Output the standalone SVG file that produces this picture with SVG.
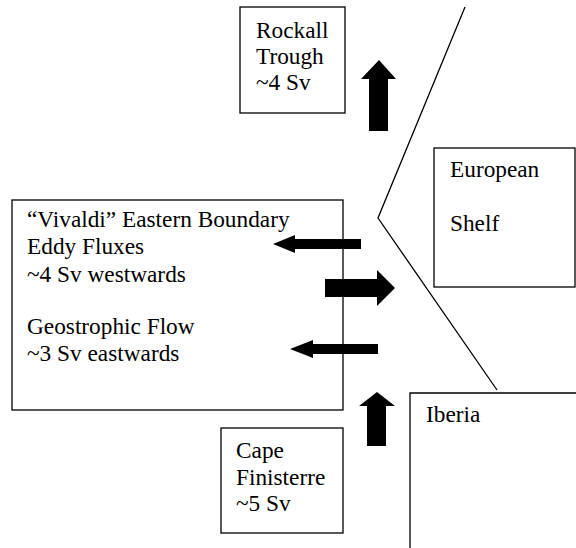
<svg xmlns="http://www.w3.org/2000/svg" width="576" height="548" viewBox="0 0 576 548">
<style>
.box{fill:none;stroke:#000;stroke-width:1.3}
.t{font-family:"Liberation Serif","Times New Roman",serif;font-size:23.3px;fill:#000}
.ar{fill:#000}
.coast{fill:none;stroke:#000;stroke-width:1.3}
</style>
<rect width="576" height="548" fill="#fff"/>
<g id="coast"><polyline class="coast" points="465,7 378,218 497,390"/></g>
<g id="rockall">
<rect class="box" x="240" y="7" width="105" height="106"/>
<text class="t" x="256" y="38">Rockall</text>
<text class="t" x="256" y="64">Trough</text>
<text class="t" x="256" y="90">~4 Sv</text>
</g>
<g id="european-shelf">
<rect class="box" x="434" y="148" width="141" height="139"/>
<text class="t" x="450" y="177">European</text>
<text class="t" x="450" y="231">Shelf</text>
</g>
<g id="vivaldi">
<rect class="box" x="12" y="200" width="331" height="210"/>
<text class="t" x="27" y="227">“Vivaldi” Eastern Boundary</text>
<text class="t" x="27" y="254">Eddy Fluxes</text>
<text class="t" x="27" y="282">~4 Sv westwards</text>
<text class="t" x="27" y="334">Geostrophic Flow</text>
<text class="t" x="27" y="361">~3 Sv eastwards</text>
</g>
<g id="cape-finisterre">
<rect class="box" x="221" y="428" width="122" height="105"/>
<text class="t" x="236" y="458">Cape</text>
<text class="t" x="236" y="485">Finisterre</text>
<text class="t" x="236" y="511">~5 Sv</text>
</g>
<g id="iberia">
<polyline class="box" points="410,548 410,393 577,393"/>
<text class="t" x="426" y="422">Iberia</text>
</g>
<g id="connectors">
<polygon class="ar" points="379,60 396,79 388,79 388,131 369,131 369,79 361,79"/>
<polygon class="ar" points="273,244 295,235 295,239 361,239 361,249 295,249 295,253"/>
<polygon class="ar" points="395,288 377,270 377,279 325,279 325,297 377,297 377,306"/>
<polygon class="ar" points="290,349 313,340 313,344 378,344 378,354 313,354 313,358"/>
<polygon class="ar" points="377,392 395,406 386,406 386,446 367,446 367,406 359,406"/>
</g>
</svg>
